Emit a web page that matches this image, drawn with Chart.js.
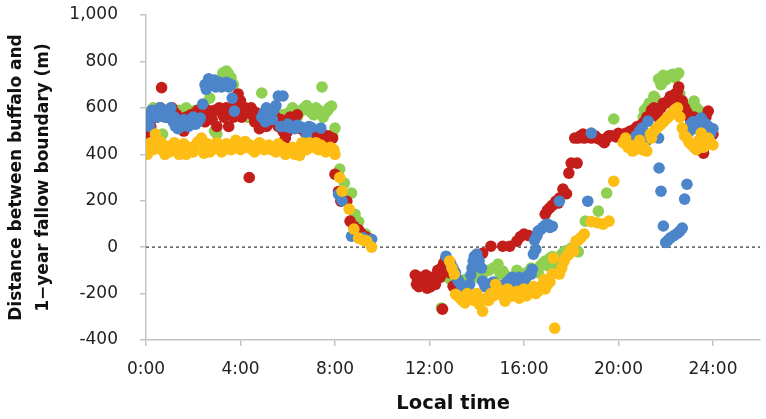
<!DOCTYPE html>
<html><head><meta charset="utf-8">
<script src="https://cdn.jsdelivr.net/npm/chart.js@4.4.1/dist/chart.umd.min.js"></script>
<style>html,body{margin:0;padding:0;background:#fff}</style>
</head><body>
<canvas id="c" width="766" height="419"></canvas>
<script>
// ---- data (local time in hours, distance in m) ----
const redTime = [0.0,0.1,0.2,0.35,0.5,0.66,0.8,1.0,1.2,1.35,1.5,1.7,1.9,2.1,2.3,2.5,2.7,2.9,3.1,3.3,3.5,3.7,3.9,4.0,4.1,4.2,4.37,4.5,4.6,4.7,4.85,5.0,5.2,5.4,5.6,5.8,5.9,6.1,6.4,6.7,6.9,7.1,7.3,7.5,7.7,7.9,8.0,8.15,8.25,8.5,8.64,8.8,9.0,9.1,9.3,9.5,
  0.05,0.25,0.45,0.6,0.9,1.1,1.3,1.45,1.6,1.8,2.0,2.2,2.4,2.6,2.8,3.0,3.2,3.4,3.6,3.8,4.05,4.3,4.45,4.65,4.8,4.95,5.1,5.3,5.5,5.7,6.0,6.2,6.55,7.0,7.2,7.4,7.6,7.8,
  11.4,11.5,11.6,11.75,11.9,12.0,12.1,12.25,12.4,12.5,12.55,12.6,12.7,12.85,13.0,14.0,14.25,14.6,15.1,15.4,15.7,15.85,16.0,16.2,16.9,17.0,17.2,17.35,17.5,17.65,17.8,17.9,18.0,18.25,18.3,18.5,18.65,18.85,19.1,19.3,19.5,19.7,19.9,20.1,20.3,20.5,20.8,21.0,21.2,21.4,21.6,21.8,22.0,22.2,22.4,22.55,22.7,22.9,23.2,23.5,23.6,23.8,24.0,
  11.45,11.55,11.7,11.85,12.05,12.2,12.35,12.45,17.1,17.45,18.15,18.4,18.55,19.0,19.2,19.4,19.6,20.0,20.2,20.4,20.7,20.9,21.1,21.3,21.5,21.7,21.9,22.1,22.3,22.5,22.6,22.8,23.0,23.3,23.4,23.7];
const redDist = [500,480,520,560,580,687,590,590,580,540,520,560,570,580,560,540,570,590,600,560,520,560,660,630,580,600,300,570,540,560,530,560,580,540,520,500,470,560,570,500,480,490,460,470,480,470,314,240,198,198,112,90,75,60,45,34,
  530,490,560,600,560,600,570,550,500,530,540,590,570,590,550,520,580,600,590,620,560,580,600,580,510,540,520,570,560,550,500,540,510,470,480,500,450,460,
  -120,-140,-130,-160,-177,-150,-130,-160,-120,-90,-267,-70,-47,-110,-168,-40,-26,4,4,4,26,45,56,50,142,160,180,198,211,250,230,319,362,362,470,487,480,470,470,460,470,480,475,480,490,500,520,530,560,590,580,600,620,650,660,690,630,580,560,450,405,586,487,
  -160,-170,-140,-120,-170,-140,-100,-130,170,190,470,480,470,480,465,450,480,490,470,480,510,500,540,560,600,560,620,630,640,670,600,600,560,440,420,560];

const greenTime = [0.0,0.15,0.3,0.5,0.7,0.9,1.2,1.5,1.85,2.1,2.4,2.7,3.0,3.25,3.4,3.5,3.7,4.0,4.3,4.6,4.9,4.95,5.3,5.6,6.05,6.3,6.5,6.7,6.9,7.1,7.3,7.45,7.6,7.75,7.85,8.0,8.2,8.4,8.7,8.85,9.0,9.3,
  0.1,0.4,0.6,1.0,1.4,1.7,2.2,2.5,2.9,3.3,3.6,4.1,4.5,5.1,5.5,5.8,6.2,6.4,6.6,6.8,7.0,7.2,7.5,7.7,7.9,
  12.5,12.7,12.9,13.1,13.7,13.9,14.1,14.5,14.9,15.0,15.1,15.3,15.5,15.8,16.1,16.5,16.7,16.9,17.1,17.3,17.6,17.8,18.0,18.3,18.6,19.15,19.5,19.8,21.05,21.2,21.4,21.55,21.7,21.9,22.1,22.3,22.55,22.7,23.0,23.2,23.4,23.6,
  12.8,13.0,13.3,13.5,14.3,14.7,15.2,15.4,15.7,16.0,16.3,16.6,16.8,17.0,17.2,17.5,17.7,18.1,21.1,21.3,21.5,21.8,22.0,22.2,22.4,22.6,22.8,22.9,23.1,23.3,23.5];
const greenDist = [552,580,600,590,487,560,580,560,586,590,570,642,487,750,759,745,700,580,560,560,664,530,540,560,580,570,580,600,590,570,590,690,580,600,608,513,336,276,233,142,110,56,
  560,580,600,570,590,600,580,600,500,740,730,570,580,550,580,570,600,560,590,610,580,600,560,590,480,
  -262,-116,-140,-146,-133,-120,-133,-100,-73,-116,-103,-140,-146,-120,-110,-103,-80,-60,-47,-70,-30,-15,-4,-20,112,155,233,552,560,600,620,642,724,740,730,745,750,620,600,629,590,573,
  -130,-120,-150,-140,-110,-90,-120,-130,-100,-120,-90,-110,-70,-80,-40,-50,-20,-10,590,620,650,700,720,740,730,660,610,590,580,600,570];

const blueTime = [0.0,0.1,0.2,0.35,0.5,0.7,0.9,1.05,1.2,1.35,1.5,1.7,1.9,2.1,2.3,2.4,2.5,2.65,2.8,2.95,3.1,3.3,3.5,3.65,3.74,4.9,5.0,5.1,5.25,5.4,5.6,5.8,5.9,6.1,6.3,6.5,6.7,6.8,7.0,7.4,8.15,8.3,8.7,9.2,9.55,
  0.05,0.15,0.25,0.45,0.6,0.8,1.0,1.15,1.25,1.45,1.6,1.8,2.0,2.2,2.55,2.7,2.9,3.0,3.2,3.4,3.6,5.05,5.2,5.35,5.5,5.7,6.0,6.2,6.4,6.6,6.9,
  12.7,12.9,13.0,13.2,13.35,13.5,13.7,13.8,13.9,14.0,14.1,14.2,14.25,14.5,14.7,14.9,15.1,15.3,15.5,15.7,15.9,16.1,16.3,16.35,16.4,16.5,16.6,16.8,17.0,17.2,17.5,18.7,18.85,20.75,20.9,21.0,21.2,21.25,21.7,21.72,21.8,21.9,22.0,22.1,22.2,22.35,22.5,22.6,22.7,22.8,22.9,23.0,23.15,23.3,23.5,23.7,23.9,24.0,
  13.1,13.25,13.45,13.6,13.75,13.85,13.95,14.05,14.35,14.6,14.8,15.0,15.2,15.4,15.6,15.8,16.0,16.2,16.45,16.55,16.7,16.9,17.1,20.8,20.95,21.1,23.05,23.2,23.4,23.6,23.8];
const blueDist = [540,560,570,580,590,580,590,600,560,510,520,540,550,530,556,616,700,725,700,690,710,700,690,642,586,560,580,600,570,590,651,651,520,515,510,520,510,478,515,513,228,200,47,40,34,
  560,520,590,560,600,560,580,540,520,540,550,520,560,540,680,700,720,700,690,710,700,540,560,550,610,520,530,520,525,515,520,
  -39,-70,-90,-140,-165,-175,-160,-90,-40,-30,-60,-90,-146,-160,-150,-175,-181,-150,-130,-140,-160,-130,-116,-95,-30,-10,69,85,99,90,198,198,491,480,500,513,460,543,470,341,241,91,20,30,40,50,60,69,82,207,271,500,540,520,556,530,487,510,
  -110,-150,-180,-170,-120,-60,-70,-50,-170,-180,-160,-165,-170,-140,-150,-130,-150,-120,30,50,75,95,85,460,470,490,530,510,545,540,520];

const orangeTime = [0.0,0.1,0.2,0.4,0.5,0.65,0.8,0.95,1.1,1.3,1.5,1.7,1.9,2.1,2.35,2.5,2.7,2.9,3.1,3.3,3.5,3.7,3.9,4.1,4.3,4.5,4.7,4.9,5.1,5.3,5.5,5.7,5.9,6.1,6.3,6.5,6.7,6.9,7.1,7.3,7.5,7.7,8.0,8.2,8.3,8.6,8.8,9.0,9.2,9.35,9.55,
  0.05,0.3,0.6,0.75,1.0,1.2,1.4,1.6,1.8,2.0,2.2,2.45,2.6,2.8,3.0,3.2,3.4,3.6,3.8,4.0,4.2,4.4,4.6,4.8,5.0,5.2,5.4,5.6,5.8,6.0,6.2,6.4,6.6,6.8,7.0,7.2,7.4,7.6,7.8,7.95,
  12.85,12.95,13.05,13.1,13.3,13.5,13.7,13.9,14.1,14.25,14.4,14.6,14.8,15.0,15.2,15.4,15.6,15.8,16.0,16.2,16.4,16.6,16.85,17.0,17.2,17.25,17.3,17.5,17.7,17.9,18.1,18.2,18.4,18.55,18.85,19.1,19.35,19.6,19.8,20.2,20.4,20.6,20.8,21.0,21.2,21.35,21.5,21.7,21.9,22.1,22.3,22.5,22.7,22.9,23.1,23.3,23.5,23.7,23.9,24.0,
  13.2,13.4,13.6,13.8,14.0,14.5,14.7,14.9,15.1,15.3,15.5,15.7,15.9,16.1,16.3,16.5,16.7,16.9,17.1,17.6,17.8,18.0,18.3,20.3,20.5,20.7,20.9,21.1,21.4,21.6,21.8,22.0,22.2,22.4,22.6,22.8,23.0,23.2,23.4,23.6,23.8];
const orangeDist = [430,410,450,487,440,420,400,430,440,420,430,400,420,440,470,430,410,430,440,420,430,440,450,440,430,420,430,440,430,420,410,420,400,420,400,395,440,450,430,420,430,420,400,300,241,164,78,39,30,26,0,
  400,420,455,440,410,450,400,445,430,410,455,405,445,420,450,410,445,420,460,420,455,440,410,450,420,440,430,445,430,410,430,420,450,420,440,450,440,410,430,420,
  -60,-90,-116,-203,-220,-240,-210,-230,-246,-276,-220,-200,-160,-200,-233,-190,-200,-220,-180,-200,-170,-190,-140,-160,-116,-47,-349,-116,-60,-30,-17,26,40,56,110,105,99,112,284,450,430,414,440,420,414,487,500,520,540,560,580,600,513,470,440,420,491,440,450,440,
  -210,-230,-200,-220,-200,-230,-210,-180,-210,-180,-210,-190,-200,-210,-190,-200,-170,-180,-150,-90,-40,-10,30,470,440,420,460,430,470,510,530,550,570,590,560,480,450,430,460,430,470];

const xTickStep = 4;
const yTickStep = 200;
const xMin = 0, xMax = 26;
const yMin = -400, yMax = 1000;
const zeroLine = [xMin, xMax];

const pts = (t, d) => t.map((v, i) => ({x: v, y: d[i]}));
const dot = (data, color, order) => ({
  data, order, backgroundColor: color, borderWidth: 0, pointRadius: 5.8, pointHoverRadius: 5.8, showLine: false
});

new Chart(document.getElementById('c'), {
  type: 'scatter',
  data: {
    datasets: [
      dot(pts(orangeTime, orangeDist), '#FDBD14', 1),
      dot(pts(blueTime, blueDist), '#4C85C9', 2),
      dot(pts(redTime, redDist), '#C31E1A', 3),
      dot(pts(greenTime, greenDist), '#8FD052', 4),
      { data: zeroLine.map(x => ({x, y: 0})), order: 5, showLine: true, pointRadius: 0,
        borderColor: '#666', borderWidth: 1.6, borderDash: [3, 3], fill: false }
    ]
  },
  options: {
    responsive: false, animation: false, devicePixelRatio: 1,
    layout: { padding: { top: 15, right: 0, bottom: 0, left: 0 } },
    plugins: { legend: { display: false }, tooltip: { enabled: false } },
    scales: {
      x: {
        type: 'linear', min: xMin, max: xMax,
        afterFit: s => { s.height = 79; s.paddingLeft = 0; s.paddingRight = 0; },
        border: { display: true, color: '#C4C4C4', width: 1.5 },
        grid: { drawOnChartArea: false, drawTicks: true, tickLength: 6, color: '#C4C4C4', lineWidth: 1.5 },
        ticks: { stepSize: xTickStep, includeBounds: false, padding: 13, color: '#222',
          font: { family: 'DejaVu Sans', size: 17 },
          maxRotation: 0,
          callback: v => v + ':00' },
        title: { display: true, text: 'Local time', color: '#111', padding: { top: 0, bottom: 3 },
          font: { family: 'DejaVu Sans', size: 19.5, weight: 'bold' } }
      },
      y: {
        min: yMin, max: yMax,
        afterFit: s => { s.width = 146; s.paddingTop = 0; s.paddingBottom = 0; },
        border: { display: true, color: '#C4C4C4', width: 1.5 },
        grid: { drawOnChartArea: false, drawTicks: true, tickLength: 6, color: '#C4C4C4', lineWidth: 1.5 },
        ticks: { stepSize: yTickStep, padding: 22, color: '#222',
          font: { family: 'DejaVu Sans', size: 17 },
          callback: v => v.toLocaleString('en-US') },
        title: { display: true, text: ['Distance between buffalo and', '1\u2212year fallow boundary (m)'],
          color: '#111', padding: { top: 3, bottom: 0 },
          font: { family: 'DejaVu Sans', size: 17, weight: 'bold', lineHeight: 1.6 } }
      }
    }
  }
});
</script>
</body></html>
